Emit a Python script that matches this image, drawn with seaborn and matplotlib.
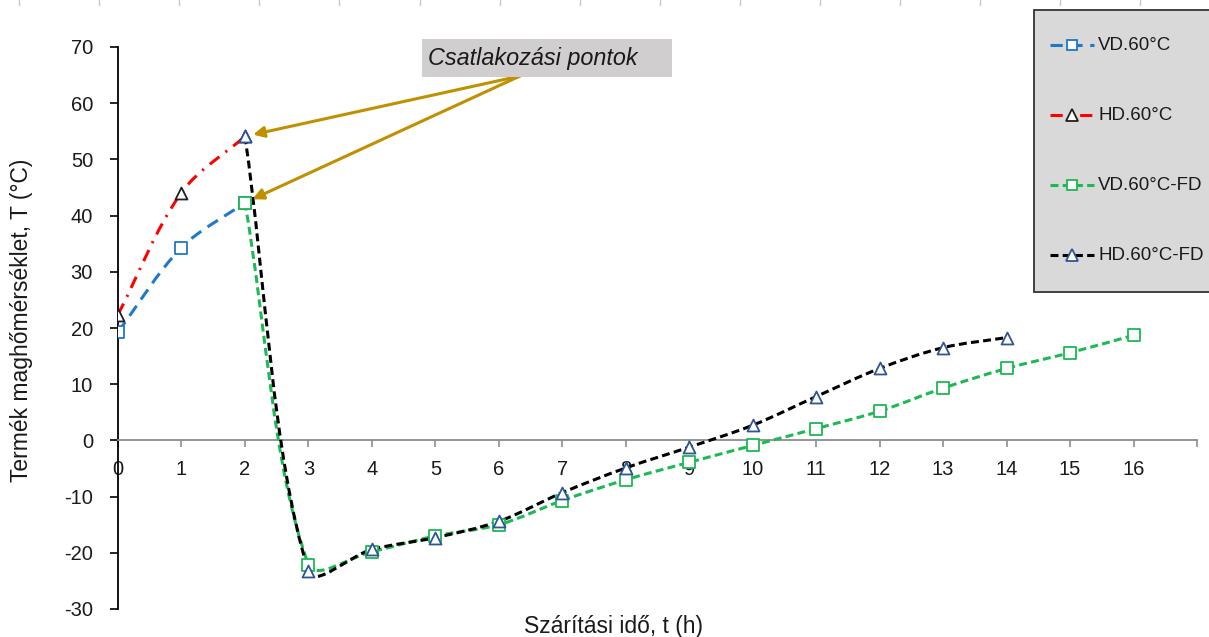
import numpy as np
import matplotlib
matplotlib.use("Agg")
import matplotlib.pyplot as plt
import seaborn as sns
from matplotlib.path import Path
from matplotlib.patches import PathPatch, Rectangle
from matplotlib.lines import Line2D

# ---------------- data ----------------
vd_x = [0, 1, 2]
vd_y = [19.3, 34.3, 42.3]

hd_x = [0, 1, 2]
hd_y = [22.4, 44.1, 54.1]

vdfd_x = [2, 3, 4, 5, 6, 7, 8, 9, 10, 11, 12, 13, 14, 15, 16]
vdfd_y = [42.3, -22.1, -19.8, -17.0, -15.0, -10.7, -7.0, -3.9, -0.9, 2.1, 5.2, 9.3, 12.8, 15.6, 18.7]

hdfd_x = [2, 3, 4, 5, 6, 7, 8, 9, 10, 11, 12, 13, 14]
hdfd_y = [54.1, -23.3, -19.4, -17.3, -14.4, -9.3, -4.9, -1.2, 2.7, 7.8, 12.8, 16.5, 18.3]

series_names = ["VD.60°C", "HD.60°C", "VD.60°C-FD", "HD.60°C-FD"]
x_tick_labels = [str(i) for i in range(17)]
y_ticks = list(range(-30, 71, 10))

annot_text = "Csatlakozási pontok"
x_label = "Szárítási idő, t (h)"
y_label = "Termék maghőmérséklet, T (°C)"

# ---------------- style ----------------
sns.set_theme(style="white")
plt.rcParams["font.family"] = ["Liberation Sans", "DejaVu Sans"]

W, H = 1209, 637
fig = plt.figure(figsize=(W / 100, H / 100), dpi=100)
ax = fig.add_axes([118 / W, 1 - 609 / H, (1197 - 118) / W, (609 - 47) / H])
ax.set_xlim(0, 17)
ax.set_ylim(-30, 70)

# screen scale (px per data unit) for length-weighted smoothing
p0 = ax.transData.transform((0, 0))
p1 = ax.transData.transform((1, 1))
S = np.abs(p1 - p0)


def smooth_path(xs, ys):
    pts = np.column_stack([xs, ys]).astype(float)
    n = len(pts)
    verts = [pts[0]]
    codes = [Path.MOVETO]
    for i in range(n - 1):
        a = pts[i - 1] if i > 0 else pts[i]
        b = pts[i]
        c = pts[i + 1]
        d = pts[i + 2] if i + 2 < n else pts[i + 1]
        dab = np.linalg.norm((b - a) * S)
        dbc = np.linalg.norm((c - b) * S)
        dcd = np.linalg.norm((d - c) * S)
        w1 = dbc / (dab + dbc) if dab + dbc > 0 else 0.5
        w2 = dbc / (dbc + dcd) if dbc + dcd > 0 else 0.5
        c1 = b + (c - a) * w1 / 3.0
        c2 = c - (d - b) * w2 / 3.0
        verts += [c1, c2, c]
        codes += [Path.CURVE4] * 3
    return Path(np.array(verts), codes)


blue = "#1F78C8"
red = "#FF0000"
green = "#1DB954"
black = "#000000"
tri_edge = "#2F5597"

lw = 2.2
styles = [
    (vd_x, vd_y, blue, (0, (4.0, 2.5)), "s", blue, 3),
    (hd_x, hd_y, red, (0, (4.0, 2.5, 0.7, 2.5)), "^", "#202020", 3),
    (vdfd_x, vdfd_y, green, (0, (2.6, 1.4)), "s", green, 4),
    (hdfd_x, hdfd_y, black, (0, (2.6, 1.4)), "^", tri_edge, 4),
]

for xs, ys, col, ls, mk, mec, z in styles:
    patch = PathPatch(smooth_path(xs, ys), fill=False, edgecolor=col, lw=lw,
                      linestyle=ls, zorder=z, capstyle="butt")
    ax.add_patch(patch)

for xs, ys, col, ls, mk, mec, z in styles:
    sns.scatterplot(x=xs, y=ys, marker=mk, s=66 if mk == "s" else 74,
                    facecolor="white", edgecolor=mec, linewidth=1.3,
                    ax=ax, zorder=z + 2, legend=False)

# ---------------- axes ----------------
ax.spines["top"].set_visible(False)
ax.spines["right"].set_visible(False)
ax.spines["left"].set_color("#000000")
ax.spines["left"].set_linewidth(1.3)
ax.spines["bottom"].set_position(("data", 0))
ax.spines["bottom"].set_color("#8C8C8C")
ax.spines["bottom"].set_linewidth(1.3)

ax.set_xticks(range(18))
ax.set_xticklabels(x_tick_labels + [""])
ax.set_yticks(y_ticks)
ax.set_yticklabels([str(v) for v in y_ticks])
ax.tick_params(axis="x", direction="out", length=5, width=1.2, color="#8C8C8C",
               labelsize=14.5, pad=9, labelcolor="#1a1a1a", bottom=True)
ax.tick_params(axis="y", direction="out", length=6, width=1.2, color="#000000",
               labelsize=14.5, pad=12, labelcolor="#1a1a1a", left=True)
ax.grid(False)

ax.set_xlabel(x_label, fontsize=16.5, color="#1a1a1a")
ax.set_ylabel(y_label, fontsize=16.5, color="#1a1a1a")
ax.xaxis.set_label_coords((613 - 118) / (1197 - 118), (609 - 627) / (609 - 47))
ax.yaxis.set_label_coords((22 - 118) / (1197 - 118), (609 - 320) / (609 - 47))
ax.xaxis.label.set_va("center")
ax.yaxis.label.set_va("center")

# ---------------- annotation ----------------
fig.patches.append(Rectangle((422 / W, 1 - 77 / H), (672 - 422) / W, (77 - 39) / H,
                             transform=fig.transFigure, facecolor="#D0CECE",
                             edgecolor="none", zorder=1))
fig.text(428 / W, 1 - 58 / H, annot_text, fontsize=16.8, style="italic",
         color="#1a1a1a", va="center", ha="left", zorder=2)

arrow_col = "#BF9000"
for tx, ty in [(hdfd_x[0], hdfd_y[0]), (vdfd_x[0], vdfd_y[0])]:
    ax.annotate("", xy=(tx, ty), xycoords="data",
                xytext=(520, H - 76), textcoords="figure pixels",
                arrowprops=dict(arrowstyle="-|>", color=arrow_col, lw=2.2,
                                mutation_scale=16, shrinkA=0, shrinkB=6),
                zorder=10, annotation_clip=False)

# ---------------- legend (drawn manually) ----------------
fig.patches.append(Rectangle((1034 / W, 1 - 292 / H), (1215 - 1034) / W, (292 - 10) / H,
                             transform=fig.transFigure, facecolor="#D9D9D9",
                             edgecolor="#404040", linewidth=1.4, zorder=1))
leg_rows = [45, 115, 185, 255]
for (xs, ys, col, ls, mk, mec, z), name, ry in zip(styles, series_names, leg_rows):
    yy = 1 - ry / H
    fig.add_artist(Line2D([1050 / W, 1094 / W], [yy, yy], transform=fig.transFigure,
                          color=col, lw=lw, linestyle=ls, zorder=3))
    fig.add_artist(Line2D([1072 / W], [yy], transform=fig.transFigure,
                          marker=mk, markersize=7.5 if mk == "s" else 8,
                          markerfacecolor="white", markeredgecolor=mec,
                          markeredgewidth=1.3, linestyle="none", zorder=4))
    fig.text(1098 / W, yy, name, fontsize=13.5, color="#1a1a1a",
             va="center", ha="left", zorder=5)

# faint page tick marks along top edge
for px in np.arange(19, 1150, 80.1):
    fig.add_artist(Line2D([px / W, px / W], [1, 1 - 5 / H], transform=fig.transFigure,
                          color="#C8C8C8", lw=1))

fig.savefig("out.png", dpi=100, facecolor="white")
